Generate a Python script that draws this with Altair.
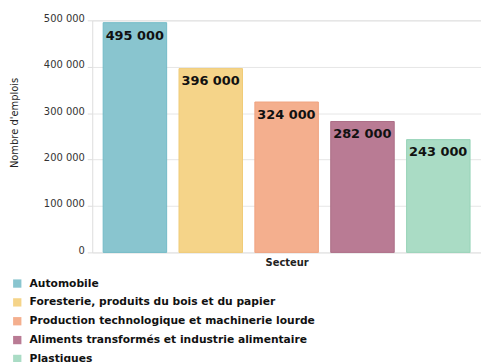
import altair as alt
import pandas as pd

secteurs = [
    "Automobile",
    "Foresterie, produits du bois et du papier",
    "Production technologique et machinerie lourde",
    "Aliments transformés et industrie alimentaire",
    "Plastiques",
]
emplois = [495000, 396000, 324000, 282000, 243000]
etiquettes = ["495 000", "396 000", "324 000", "282 000", "243 000"]
couleurs = ["#89C5CF", "#F5D489", "#F4AF8E", "#B97B94", "#AADCC5"]
contours = ["#72BAC6", "#F0CB76", "#EFA27F", "#AC6D87", "#98D3B8"]

df = pd.DataFrame({"Secteur": secteurs, "Emplois": emplois, "Etiquette": etiquettes})

FONT = "DejaVu Sans"

x = alt.X(
    "Secteur:N",
    sort=secteurs,
    scale=alt.Scale(paddingInner=0.163, paddingOuter=0.144),
    axis=alt.Axis(
        labels=False, ticks=False, domain=False, title="Secteur",
        titleFont=FONT, titleFontSize=10, titleFontWeight="bold",
        titleColor="#222", titlePadding=5,
    ),
)

bars = alt.Chart(df).mark_bar(strokeWidth=1).encode(
    x=x,
    y=alt.Y(
        "Emplois:Q",
        scale=alt.Scale(domain=[0, 500000], nice=False),
        axis=alt.Axis(
            values=[0, 100000, 200000, 300000, 400000, 500000],
            labelExpr="replace(format(datum.value, ','), ',', ' ')",
            title="Nombre d'emplois",
            titleFont=FONT, titleFontSize=10, titleFontWeight="normal",
            titleColor="#222", titleX=-78, titleY=103, titleAngle=-90,
            titleAlign="center", titleBaseline="middle",
            labelFont=FONT, labelFontSize=10, labelColor="#333",
            labelPadding=3, labelOffset=-2,
            domain=False, tickSize=5, tickColor="#dddddd",
            gridColor="#e6e6e6",
        ),
    ),
    color=alt.Color(
        "Secteur:N",
        sort=secteurs,
        scale=alt.Scale(domain=secteurs, range=couleurs),
        legend=alt.Legend(
            title=None, orient="none", legendX=-81, legendY=260,
            direction="vertical", symbolType="square", symbolSize=70,
            symbolStrokeWidth=0, labelFont=FONT, labelFontSize=10.8,
            labelFontWeight="bold", labelColor="#111", rowPadding=7,
            labelOffset=7, labelLimit=400,
        ),
    ),
    stroke=alt.Stroke(
        "Secteur:N",
        scale=alt.Scale(domain=secteurs, range=contours),
        legend=None,
    ),
)

labels = alt.Chart(df).mark_text(
    align="left", baseline="alphabetic", dx=2.5, dy=17,
    font=FONT, fontSize=13, fontWeight="bold", color="#111",
).encode(
    x=alt.X("Secteur:N", sort=secteurs, bandPosition=0),
    y=alt.Y("Emplois:Q"),
    text="Etiquette:N",
)

chart = (
    alt.layer(bars, labels)
    .properties(
        width=392, height=234,
        autosize=alt.AutoSizeParams(type="none"),
        padding={"left": 93, "top": 19, "right": 0, "bottom": 109},
    )
    .configure_view(stroke=None)
    .configure(background="white")
)

chart.save("out.html", embed_options={"renderer": "svg", "actions": False})
